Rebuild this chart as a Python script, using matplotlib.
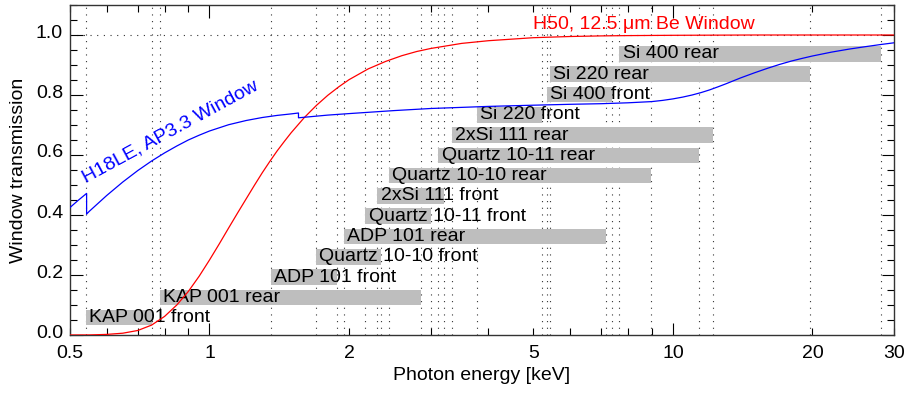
import numpy as np
import matplotlib
matplotlib.use("Agg")
import matplotlib.pyplot as plt
from matplotlib.transforms import ScaledTranslation

plt.rcParams["font.family"] = ["Liberation Sans", "DejaVu Sans"]
plt.rcParams["font.size"] = 14

# crystal energy ranges [keV], bottom row first
crystals = ["KAP 001 front", "KAP 001 rear", "ADP 101 front", "Quartz 10-10 front",
            "ADP 101 rear", "Quartz 10-11 front", "2xSi 111 front", "Quartz 10-10 rear",
            "Quartz 10-11 rear", "2xSi 111 rear", "Si 220 front", "Si 400 front",
            "Si 220 rear", "Si 400 rear"]
e_low = [0.541, 0.782, 1.357, 1.695, 1.95, 2.17, 2.30, 2.44, 3.12, 3.33, 3.77, 5.34, 5.43, 7.66]
e_high = [0.750, 2.86, 1.88, 2.35, 7.17, 3.00, 3.20, 8.97, 11.40, 12.19, 5.21, 7.38, 19.8, 28.1]

# H50, 12.5 um Be window transmission
be_energy = [0.5, 0.55, 0.6, 0.65, 0.7, 0.75, 0.8, 0.85, 0.9, 0.95, 1.0, 1.05, 1.1, 1.15,
             1.2, 1.25, 1.3, 1.35, 1.4, 1.45, 1.5, 1.6, 1.7, 1.8, 1.9, 2.0, 2.2, 2.4, 2.6,
             2.8, 3.0, 3.5, 4.0, 5.0, 6.0, 7.0, 8.0, 10.0, 15.0, 30.0]
be_trans = [0.0, 0.0002, 0.002, 0.006, 0.015, 0.033, 0.062, 0.10, 0.145, 0.196, 0.25, 0.304,
            0.357, 0.407, 0.454, 0.499, 0.541, 0.579, 0.614, 0.645, 0.674, 0.724, 0.765,
            0.799, 0.827, 0.851, 0.887, 0.912, 0.931, 0.945, 0.955, 0.972, 0.981, 0.991,
            0.995, 0.997, 0.998, 0.999, 1.0, 1.0]

# H18LE, AP3.3 window transmission
ap_energy = [0.5, 0.52, 0.543, 0.543, 0.55, 0.6, 0.65, 0.7, 0.75, 0.8, 0.85, 0.9, 0.95,
             1.0, 1.1, 1.2, 1.3, 1.4, 1.5, 1.556, 1.556, 1.8, 2.0, 2.5, 3.0, 4.0, 5.0,
             6.0, 7.0, 8.0, 9.0, 9.5, 10.0, 10.5, 11.0, 11.5, 12.0, 12.5, 13.0, 14.0,
             15.0, 16.0, 17.0, 18.0, 19.0, 20.0, 22.0, 24.0, 26.0, 28.0, 30.0]
ap_trans = [0.425, 0.448, 0.472, 0.403, 0.412, 0.465, 0.510, 0.548, 0.580, 0.607, 0.630,
            0.650, 0.666, 0.680, 0.701, 0.715, 0.725, 0.732, 0.737, 0.740, 0.724, 0.733,
            0.738, 0.748, 0.755, 0.762, 0.766, 0.769, 0.771, 0.774, 0.778, 0.782, 0.787,
            0.793, 0.800, 0.808, 0.817, 0.827, 0.837, 0.857, 0.874, 0.889, 0.902, 0.913,
            0.922, 0.930, 0.943, 0.953, 0.961, 0.968, 0.974]

row_y0 = 0.058
row_step = 0.0676
bar_h = 0.052

fig = plt.figure(figsize=(9.11, 3.95), dpi=100)
ax = fig.add_axes([70 / 911, 1 - 335 / 395, 824 / 911, 330 / 395])
ax.set_xscale("log")
ax.set_xlim(0.5, 30)
ax.set_ylim(0, 1.1)

dot = (0, (1, 5))
for e in e_low + e_high:
    ax.axvline(e, color="0.2", lw=0.8, ls=dot, zorder=1)
ax.axhline(1.0, color="0.2", lw=0.8, ls=dot, zorder=1)

for i, (name, lo, hi) in enumerate(zip(crystals, e_low, e_high)):
    yc = row_y0 + i * row_step
    ax.barh(yc, hi - lo, left=lo, height=bar_h, color="#bebebe", zorder=2)
    ax.annotate(name, (lo, yc), xytext=(2.5, 0), textcoords="offset points",
                ha="left", va="center", fontsize=14, zorder=3)

ax.plot(be_energy, be_trans, color="red", lw=0.9, zorder=4)
ax.plot(ap_energy, ap_trans, color="blue", lw=0.9, zorder=4)

ax.text(8.66, 1.036, "H50, 12.5 \u03bcm Be Window", color="red", ha="center",
        va="center", fontsize=14, zorder=5)
ax.text(0.541, 0.506, "H18LE, AP3.3 Window", color="blue", rotation=28.5,
        rotation_mode="anchor", ha="left", va="baseline", fontsize=14, zorder=5)

# IDL-like axes: inward ticks on all sides
ax.set_xticks([1, 10], ["1", "10"])
minor_x = [0.5, 0.6, 0.7, 0.8, 0.9, 2, 3, 4, 5, 6, 7, 8, 9, 20, 30]
minor_lab = ["0.5", "", "", "", "", "2", "", "", "5", "", "", "", "", "20", "30"]
ax.set_xticks(minor_x, minor_lab, minor=True)
ax.set_yticks(np.arange(0, 1.01, 0.2), ["0.0", "0.2", "0.4", "0.6", "0.8", "1.0"])
ax.set_yticks(np.arange(0, 1.101, 0.05), minor=True)
ax.tick_params(which="both", direction="in", top=True, right=True, width=0.8,
               labelsize=14, colors="k")
ax.tick_params(which="major", length=9)
ax.tick_params(which="minor", length=5)
ax.tick_params(axis="x", which="both", pad=7)
ax.tick_params(axis="y", which="both", pad=5)
for lab in ax.get_yticklabels():
    lab.set_transform(lab.get_transform() + ScaledTranslation(0, 0.04, fig.dpi_scale_trans))

for s in ax.spines.values():
    s.set_linewidth(1.0)
    s.set_color("0.2")

ax.set_xlabel("Photon energy [keV]", fontsize=14, labelpad=4)
ax.set_ylabel("Window transmission", fontsize=14, labelpad=6)

fig.savefig("out.png", dpi=100)
